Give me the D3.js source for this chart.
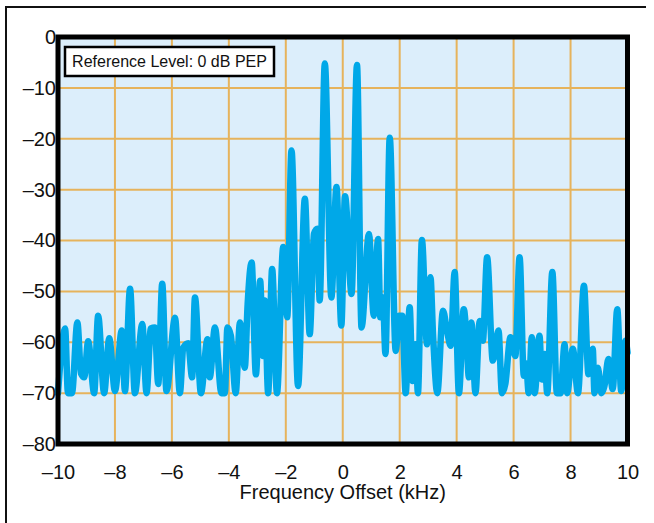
<!DOCTYPE html>
<html>
<head>
<meta charset="utf-8">
<script src="https://cdn.jsdelivr.net/npm/d3@7"></script>
<style>
  body { margin: 0; background: #fff; }
  text { font-family: "Liberation Sans", Arial, Helvetica, sans-serif; fill: #111; }
</style>
</head>
<body>
<svg width="654" height="523"></svg>
<script>
// spectrum trace (kHz offset, dB)
const freq = [-10.00,-9.75,-9.65,-9.51,-9.32,-9.19,-9.08,-8.94,-8.73,-8.59,-8.38,-8.20,-8.00,-7.76,-7.65,-7.47,-7.30,-7.04,-6.89,-6.74,
  -6.60,-6.48,-6.34,-6.19,-5.89,-5.72,-5.60,-5.43,-5.29,-5.19,-4.98,-4.75,-4.67,-4.49,-4.26,-4.14,-4.05,-3.93,-3.76,-3.61,
  -3.44,-3.34,-3.20,-3.05,-2.90,-2.80,-2.74,-2.62,-2.48,-2.31,-2.09,-1.95,-1.80,-1.57,-1.33,-1.16,-1.01,-0.89,-0.81,-0.63,
  -0.40,-0.22,-0.05,0.08,0.31,0.50,0.66,0.92,1.09,1.24,1.32,1.41,1.50,1.65,1.86,1.98,2.09,2.21,2.35,2.45,
  2.56,2.64,2.78,2.96,3.08,3.17,3.32,3.52,3.66,3.79,3.93,4.08,4.25,4.34,4.43,4.52,4.66,4.81,4.92,5.07,
  5.27,5.47,5.59,5.71,5.89,6.06,6.21,6.36,6.44,6.53,6.64,6.74,6.91,6.99,7.09,7.18,7.36,7.52,7.65,7.79,
  7.88,8.08,8.26,8.47,8.63,8.78,8.84,8.96,9.08,9.19,9.33,9.48,9.64,9.78,9.93,10.00];
const level = [-70,-57.3,-70,-70,-56.1,-66.2,-66.9,-59.8,-70,-54.8,-70,-59.2,-69.6,-57.7,-69.6,-49.5,-70,-56.4,-70,-57.3,
  -57.1,-68.2,-48.5,-69.6,-55.2,-70,-61.1,-60.2,-66.9,-51.2,-70,-59.4,-66.9,-57.1,-70,-70,-57.1,-58.7,-70,-56.1,
  -65,-52.5,-44.3,-66.3,-47.9,-62.7,-51.8,-70,-45.6,-70,-41.3,-55.1,-22.3,-68.6,-31.8,-58.4,-38.7,-37.7,-51.8,-5.2,
  -51.2,-29.5,-56.7,-31.3,-50.5,-5.5,-57.1,-38.7,-54.8,-39.7,-55.1,-51.2,-62.3,-19.8,-61.7,-54.8,-54.8,-70,-53.1,-67.6,
  -60.4,-70,-39.9,-60.4,-47.2,-58.4,-70,-53.8,-57.7,-60.7,-46.2,-70,-53.5,-58.4,-66.9,-56.1,-70,-55.8,-59.7,-43.3,
  -63.6,-57.7,-70,-68.2,-59.0,-62.7,-43.3,-66.6,-64.2,-70,-59.0,-70,-58.7,-67.3,-62.3,-70,-46.2,-70,-70,-60.4,
  -70,-61.3,-70,-48.9,-66.3,-61.3,-70,-65,-70,-68.6,-63.3,-69.2,-53.5,-69.6,-59.7,-62];

const xTicks = [-10,-8,-6,-4,-2,0,2,4,6,8,10];
const yTicks = [0,-10,-20,-30,-40,-50,-60,-70,-80];
const legendText = "Reference Level: 0 dB PEP";
const xTitle = "Frequency Offset (kHz)";

const svg = d3.select("svg");
const pLeft = 58, pRight = 627.5, pTop = 37, pBottom = 444;

const x = d3.scaleLinear().domain([-10, 10]).range([pLeft, pRight]);
const y = d3.scaleLinear().domain([-80, 0]).range([pBottom, pTop]);
const fmt = d => (d < 0 ? "\u2013" + Math.abs(d) : String(d));

// outer frame (only top and left edges show)
svg.append("path")
  .attr("d", "M6,523V7H646")
  .attr("fill", "none").attr("stroke", "#111").attr("stroke-width", 2);

// plot background
svg.append("rect")
  .attr("x", pLeft).attr("y", pTop)
  .attr("width", pRight - pLeft).attr("height", pBottom - pTop)
  .attr("fill", "#dceefb");

// grid
const grid = svg.append("g").attr("stroke", "#e6b35c").attr("stroke-width", 2);
grid.selectAll("line.v").data(xTicks.slice(1, -1)).enter().append("line")
  .attr("x1", d => x(d)).attr("x2", d => x(d)).attr("y1", pTop).attr("y2", pBottom);
grid.selectAll("line.h").data(yTicks.slice(1, -1)).enter().append("line")
  .attr("y1", d => y(d)).attr("y2", d => y(d)).attr("x1", pLeft).attr("x2", pRight);

// axes (labels only, the black frame is drawn separately)
const xAxis = svg.append("g").attr("transform", `translate(0,${pBottom})`)
  .call(d3.axisBottom(x).tickValues(xTicks).tickFormat(fmt).tickSize(0).tickPadding(21));
const yAxis = svg.append("g").attr("transform", `translate(${pLeft},0)`)
  .call(d3.axisLeft(y).tickValues(yTicks).tickFormat(fmt).tickSize(0).tickPadding(2));
[xAxis, yAxis].forEach(a => {
  a.select(".domain").remove();
  a.selectAll("text").attr("font-size", 20)
    .attr("font-family", "'Liberation Sans', Arial, sans-serif").attr("fill", "#111");
});

// trace
const line = d3.line()
  .x((d, i) => x(freq[i]))
  .y(d => y(d))
  .curve(d3.curveMonotoneX);
svg.append("path")
  .datum(level)
  .attr("d", line)
  .attr("fill", "none")
  .attr("stroke", "#00a8e8")
  .attr("stroke-width", 6.5)
  .attr("stroke-linejoin", "round")
  .attr("stroke-linecap", "round");

// plot frame
svg.append("rect")
  .attr("x", pLeft).attr("y", pTop)
  .attr("width", pRight - pLeft).attr("height", pBottom - pTop)
  .attr("fill", "none").attr("stroke", "#000").attr("stroke-width", 5);

// legend box
svg.append("rect")
  .attr("x", 65).attr("y", 47).attr("width", 209).attr("height", 29)
  .attr("fill", "#fff").attr("stroke", "#000").attr("stroke-width", 2.5);
svg.append("text")
  .attr("x", 169.5).attr("y", 67).attr("text-anchor", "middle")
  .attr("font-size", 16).text(legendText);

// x title
svg.append("text")
  .attr("x", x(0)).attr("y", 499).attr("text-anchor", "middle")
  .attr("font-size", 20).text(xTitle);
</script>
</body>
</html>
